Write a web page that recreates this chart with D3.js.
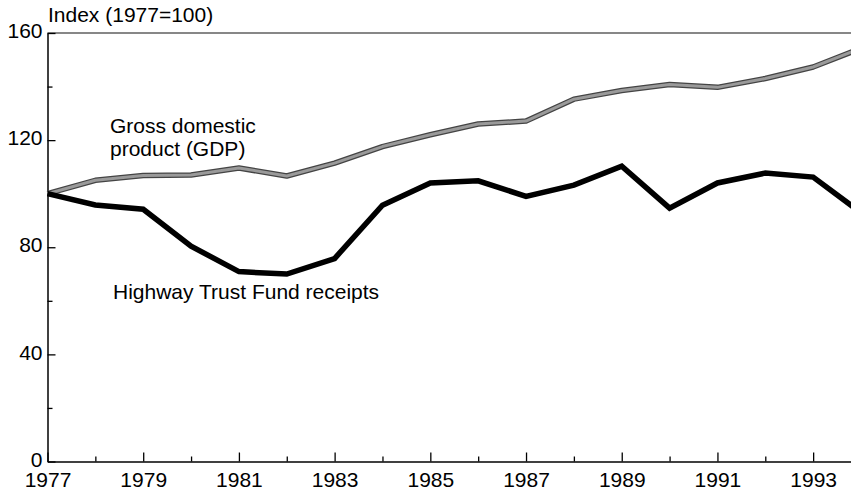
<!DOCTYPE html>
<html>
<head>
<meta charset="utf-8">
<script src="https://cdn.jsdelivr.net/npm/d3@7"></script>
<style>
  body { margin: 0; background: #fff; }
  svg { display: block; font-family: "Liberation Sans", Arial, sans-serif; }
  .axis text { font-size: 21px; fill: #000; }
  .axis path, .axis line { stroke: #000; }
</style>
</head>
<body>
<div id="chart"></div>
<script>
var w = 851,
    h = 491;

// data
var years = [1977, 1978, 1979, 1980, 1981, 1982, 1983, 1984, 1985,
             1986, 1987, 1988, 1989, 1990, 1991, 1992, 1993, 1994];
var gdp = [100, 105, 106.8, 107, 109.6, 106.6, 111.4, 117.6, 122,
           126, 127.1, 135.3, 138.5, 140.8, 139.7, 143, 147.3, 154.3];
var htf = [100, 95.8, 94.2, 80.4, 70.9, 70, 75.8, 95.7, 104,
           104.8, 99, 103.2, 110.3, 94.6, 104, 107.7, 106.2, 92.9];
var yTicks = [0, 20, 40, 60, 80, 100, 120, 140, 160];
var yLabels = [0, 40, 80, 120, 160];
var xLabels = [1977, 1979, 1981, 1983, 1985, 1987, 1989, 1991, 1993];

var x = d3.scaleLinear().domain([1977, 1994]).range([47.5, 861]),
    y = d3.scaleLinear().domain([0, 160]).range([461.5, 33]);

var svg = d3.select("#chart").append("svg")
    .attr("width", w)
    .attr("height", h);

// top frame line
svg.append("line")
    .attr("x1", x(1977)).attr("x2", w)
    .attr("y1", y(160)).attr("y2", y(160))
    .attr("stroke", "#111")
    .attr("stroke-width", 1.2);

var xAxis = svg.append("g")
    .attr("class", "axis")
    .attr("transform", "translate(0," + y(0) + ")")
    .call(d3.axisBottom(x)
      .tickValues(years)
      .tickSize(-9)
      .tickSizeOuter(0)
      .tickPadding(11)
      .tickFormat(function(d) { return xLabels.indexOf(d) >= 0 ? d : ""; }));
xAxis.select(".domain").attr("stroke-width", 1.5);
xAxis.selectAll(".tick line")
    .attr("stroke-width", 1.3)
    .attr("y2", function(d) { return xLabels.indexOf(d) >= 0 ? -9 : -5; });

var yAxis = svg.append("g")
    .attr("class", "axis")
    .attr("transform", "translate(" + x(1977) + ",0)")
    .call(d3.axisLeft(y)
      .tickValues(yTicks)
      .tickSize(-8)
      .tickSizeOuter(0)
      .tickPadding(5)
      .tickFormat(function(d) { return yLabels.indexOf(d) >= 0 ? d : ""; }));
yAxis.select(".domain").attr("stroke-width", 1.5);
yAxis.selectAll(".tick line")
    .attr("stroke-width", 1.3)
    .attr("x2", function(d) { return yLabels.indexOf(d) >= 0 ? 8 : 5; });
yAxis.selectAll(".tick text").attr("dy", "0.22em");

var line = d3.line()
    .x(function(d, i) { return x(years[i]); })
    .y(function(d) { return y(d); });

// GDP: stippled grey band
svg.append("path")
    .datum(gdp)
    .attr("fill", "none")
    .attr("stroke", "#444")
    .attr("stroke-width", 5.5)
    .attr("stroke-linejoin", "round")
    .attr("d", line);
svg.append("path")
    .datum(gdp)
    .attr("fill", "none")
    .attr("stroke", "#9a9a9a")
    .attr("stroke-width", 3)
    .attr("stroke-linejoin", "round")
    .attr("d", line);

svg.append("path")
    .datum(htf)
    .attr("fill", "none")
    .attr("stroke", "#000")
    .attr("stroke-width", 5.5)
    .attr("stroke-linejoin", "miter")
    .attr("d", line);

svg.append("text")
    .attr("x", 48)
    .attr("y", 22)
    .attr("font-size", 21)
    .text("Index (1977=100)");

svg.append("text")
    .attr("x", 110)
    .attr("y", 133)
    .attr("font-size", 21)
    .text("Gross domestic");
svg.append("text")
    .attr("x", 110)
    .attr("y", 156)
    .attr("font-size", 21)
    .text("product (GDP)");

svg.append("text")
    .attr("x", 113)
    .attr("y", 299)
    .attr("font-size", 21)
    .text("Highway Trust Fund receipts");
</script>
</body>
</html>
